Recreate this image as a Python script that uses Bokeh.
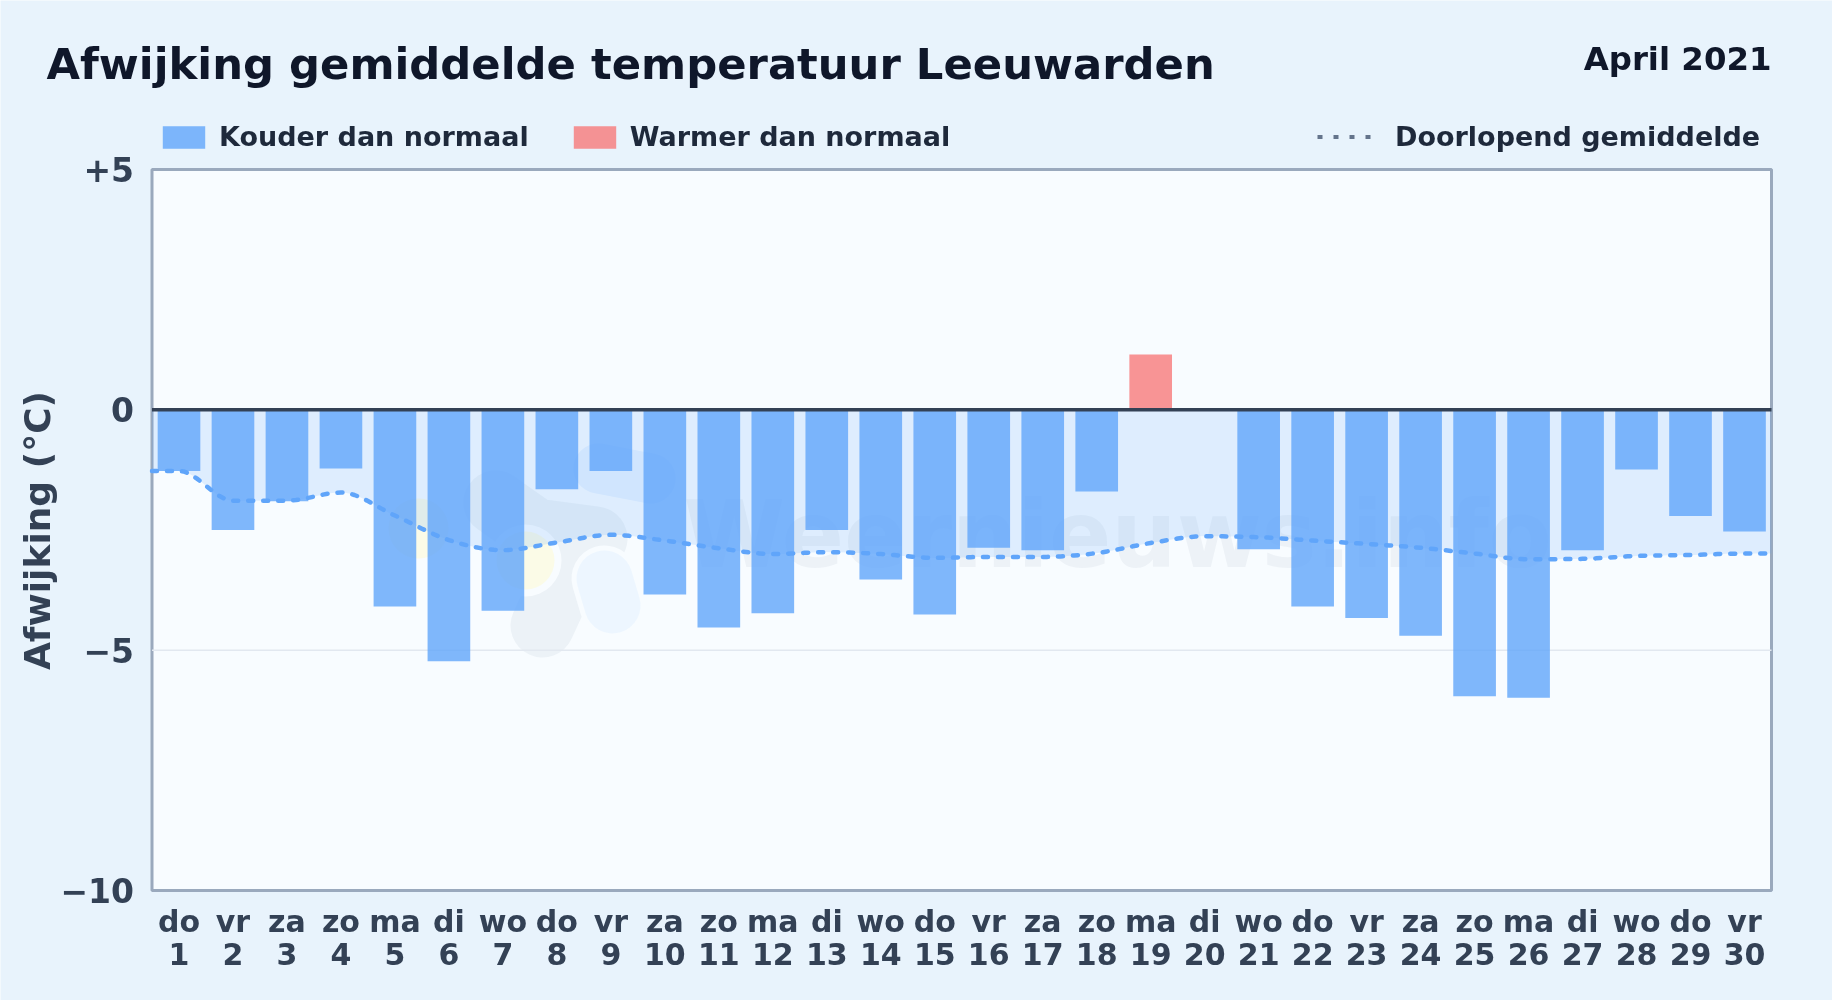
from bokeh.embed import file_html
from bokeh.resources import INLINE
from bokeh.plotting import figure
from bokeh.models import ColumnDataSource, FixedTicker, Label, Legend, LegendItem, LinearAxis, Range1d
from bokeh.core.properties import value
import numpy as np

# ---- data ----
weekdays = ["do","vr","za","zo","ma","di","wo","do","vr","za","zo","ma","di","wo","do",
            "vr","za","zo","ma","di","wo","do","vr","za","zo","ma","di","wo","do","vr"]
days = list(range(1, 31))
deviation = [-1.27,-2.50,-1.90,-1.22,-4.09,-5.23,-4.18,-1.65,-1.27,-3.84,-4.53,-4.23,-2.50,-3.53,-4.26,
             -2.87,-2.92,-1.70,1.15,0.0,-2.90,-4.09,-4.33,-4.70,-5.96,-5.99,-2.92,-1.24,-2.21,-2.53]
running_mean = [-1.27,-1.89,-1.89,-1.72,-2.20,-2.71,-2.92,-2.76,-2.60,-2.72,-2.88,-3.00,-2.96,-3.00,-3.08,
                -3.06,-3.06,-2.98,-2.77,-2.63,-2.65,-2.72,-2.79,-2.87,-2.99,-3.11,-3.10,-3.04,-3.02,-2.99]
y_ticks = [5, 0, -5, -10]
y_tick_labels = ["+5", "0", "\u22125", "\u221210"]

TITLE = "Afwijking gemiddelde temperatuur Leeuwarden"
PERIOD = "April 2021"
Y_LABEL = "Afwijking (\u00b0C)"
WATERMARK = "Weernieuws.info"

# the plot box inside the page, in pixels
BOX_L, BOX_R, BOX_T, BOX_B = 151.5, 1771, 169, 890
W, H = 1832, 1000
PAGE = "#e8f3fc"
PLOT_BG = "#f8fcff"
FONT = "DejaVu Sans"
INK_DARK, INK_MID, INK_AXIS = "#0f172a", "#1e293b", "#334155"
X0, X1, Y0, Y1 = 0.5, 30.5, -10, 5
PX = (BOX_R - BOX_L) / (X1 - X0)
PY = (BOX_B - BOX_T) / (Y1 - Y0)

# the frame fills the page so texts above the box are not clipped
p = figure(width=W, height=H, output_backend="svg", toolbar_location=None,
           x_range=Range1d(X0 - BOX_L / PX, X1 + (W - BOX_R) / PX),
           y_range=Range1d(Y0 - (H - BOX_B) / PY, Y1 + BOX_T / PY),
           min_border=0, background_fill_color=PAGE, border_fill_color=PAGE,
           outline_line_color=None)
p.styles = {"position": "fixed", "left": "0", "top": "0"}

def dx(px): return float(X0 + (px - BOX_L) / PX)
def dy(py): return float(Y1 - (py - BOX_T) / PY)

def blob(pts, width, color, alpha):
    p.line([dx(a) for a, _ in pts], [dy(b) for _, b in pts], line_width=width, line_color=color,
           line_alpha=alpha, line_cap="round", line_join="round")

def disc(cx, cy, r, color, alpha):
    p.scatter([dx(cx)], [dy(cy)], size=2*r, marker="circle",
              fill_color=color, fill_alpha=alpha, line_color=None)

p.quad(left=[X0], right=[X1], bottom=[Y0], top=[Y1], fill_color=PLOT_BG, line_color="#9aa9bd", line_width=3)

# faint logo and name behind the chart
disc(418, 528, 30, "#fef9c3", 0.40)
blob([(598, 468), (650, 478)], 50, "#bfdbfe", 0.30)
blob([(495, 502), (535, 530), (595, 538), (565, 575), (542, 625)], 64, "#94a3b8", 0.11)
disc(525, 560, 36, PLOT_BG, 1.0)
disc(525, 560, 29, "#fef9c3", 0.40)
blob([(604, 578), (612, 605)], 66, PLOT_BG, 1.0)
blob([(604, 578), (612, 605)], 56, "#bfdbfe", 0.18)
p.text([dx(683)], [dy(535)], text=[WATERMARK], text_font=value(FONT),
       text_font_size="92px", text_font_style="bold", text_color="#64748b", text_alpha=0.07,
       text_baseline="alphabetic", text_align="left")

# gridline at -5
p.segment(x0=[X0], x1=[X1], y0=[-5], y1=[-5], line_color="#e2e8f0", line_width=1.5)

# ---- smooth running mean (monotone cubic through read values) ----
def monotone(x, y, n=12):
    x, y = np.asarray(x, float), np.asarray(y, float)
    h = np.diff(x); s = np.diff(y) / h
    m = np.zeros_like(y)
    for i in range(1, len(y) - 1):
        if s[i-1] * s[i] > 0:
            pt = (s[i-1]*h[i] + s[i]*h[i-1]) / (h[i] + h[i-1])
            m[i] = np.sign(s[i]) * min(2*abs(s[i-1]), 2*abs(s[i]), abs(pt))
    m[0], m[-1] = s[0], s[-1]
    xs, ys = [], []
    for i in range(len(h)):
        t = np.linspace(0, 1, n, endpoint=False)
        xs.append(x[i] + t * h[i])
        ys.append((2*t**3-3*t**2+1)*y[i] + (t**3-2*t**2+t)*h[i]*m[i]
                  + (-2*t**3+3*t**2)*y[i+1] + (t**3-t**2)*h[i]*m[i+1])
    return np.r_[np.concatenate(xs), x[-1]], np.r_[np.concatenate(ys), y[-1]]

cx, cy = monotone([X0] + days + [X1], [running_mean[0]] + running_mean + [running_mean[-1]])

p.varea(x=cx, y1=np.zeros_like(cy), y2=cy, fill_color="#60a5fa", fill_alpha=0.17)

cold = ColumnDataSource(dict(x=[d for d, v in zip(days, deviation) if v < 0],
                             top=[v for v in deviation if v < 0]))
warm = ColumnDataSource(dict(x=[d for d, v in zip(days, deviation) if v > 0],
                             top=[v for v in deviation if v > 0]))
r_cold = p.vbar(x="x", top="top", bottom=0, width=0.79, source=cold,
                fill_color="#60a5fa", fill_alpha=0.8, line_color=None)
r_warm = p.vbar(x="x", top="top", bottom=0, width=0.79, source=warm,
                fill_color="#f87171", fill_alpha=0.75, line_color=None)

p.line(cx, cy, line_color="#60a5fa", line_width=4.5, line_dash="5 10", line_cap="round", line_join="round")
r_mean_key = p.line([float("nan")] * 2, [float("nan")] * 2, line_color="#64748b", line_width=4, line_dash="5 11")

# zero line
p.segment(x0=[X0], x1=[X1], y0=[0], y1=[0], line_color=INK_AXIS, line_width=3.5)

# ---- axes ----
p.xgrid.visible = False
p.ygrid.visible = False

xa, ya = p.xaxis[0], p.yaxis[0]
xb = LinearAxis()
p.add_layout(xb, "below")
xa.ticker = FixedTicker(ticks=days)
xb.ticker = FixedTicker(ticks=days)
xa.major_label_overrides = dict(zip(days, weekdays))
xa.fixed_location = Y0
xb.fixed_location = Y0
ya.ticker = FixedTicker(ticks=y_ticks)
ya.major_label_overrides = dict(zip(y_ticks, y_tick_labels))
ya.fixed_location = X0
for ax in (xa, xb, ya):
    ax.axis_line_color = None
    ax.major_tick_line_color = None
    ax.minor_tick_line_color = None
    ax.major_tick_out = 0
    ax.major_label_text_font = FONT
    ax.major_label_text_font_style = "bold"
    ax.major_label_text_color = INK_AXIS
xa.major_label_text_font_size = "30px"
xb.major_label_text_font_size = "30px"
ya.major_label_text_font_size = "33px"
xa.major_label_standoff = 13
xb.major_label_standoff = 52
ya.major_label_standoff = 18

p.add_layout(Label(x=dx(36.5), y=dy(530), text=Y_LABEL, angle=np.pi/2, text_font=FONT,
                   text_font_style="bold", text_font_size="36px", text_color=INK_AXIS,
                   text_align="center", text_baseline="middle"))

# ---- legends ----
def legend(items, x, glyph_w, glyph_h, standoff):
    lg = Legend(items=items, orientation="horizontal", location=(x, H - 137 - 15),
                glyph_width=glyph_w, glyph_height=glyph_h, label_standoff=standoff, spacing=39,
                padding=0, margin=0, background_fill_alpha=0, border_line_color=None,
                label_text_font=FONT, label_text_font_style="bold",
                label_text_font_size="27px", label_text_color=INK_MID,
                label_height=19)
    p.add_layout(lg, "center")

legend([LegendItem(label="Kouder dan normaal", renderers=[r_cold]),
        LegendItem(label="Warmer dan normaal", renderers=[r_warm])], 157, 53, 28, 9)
legend([LegendItem(label="Doorlopend gemiddelde", renderers=[r_mean_key])], 1317, 55, 19, 23)

# ---- title and period ----
p.add_layout(Label(x=dx(46), y=dy(63), text=TITLE,
                   text_font=FONT, text_font_style="bold", text_font_size="43.3px",
                   text_color=INK_DARK, text_align="left", text_baseline="alphabetic"))
p.add_layout(Label(x=dx(BOX_R), y=dy(58), text=PERIOD,
                   text_font=FONT, text_font_style="bold", text_font_size="32.4px",
                   text_color=INK_DARK, text_align="right", text_baseline="alphabetic"))

open("out.html", "w").write(file_html(p, INLINE))
